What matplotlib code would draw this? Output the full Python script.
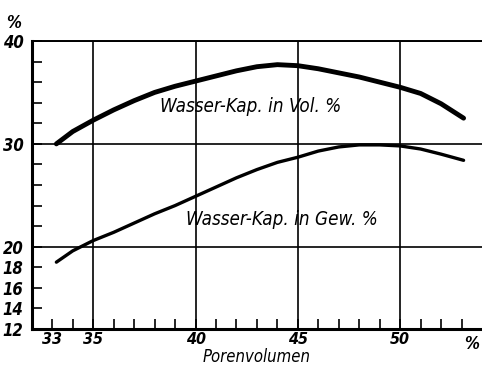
"""Wasser-Kapazitaet vs. Porenvolumen."""
import matplotlib
matplotlib.use("Agg")
import matplotlib.pyplot as plt

FONT = ["DejaVu Sans"]

poren = [33.2, 34, 35, 36, 37, 38, 39, 40, 41, 42, 43, 44, 45, 46, 47, 48, 49, 50, 51, 52, 53.1]
kap_vol = [30.0, 31.2, 32.3, 33.3, 34.2, 35.0, 35.6, 36.1, 36.6, 37.1, 37.5, 37.7, 37.6,
           37.3, 36.9, 36.5, 36.0, 35.5, 34.9, 33.9, 32.5]
kap_gew = [18.5, 19.6, 20.6, 21.4, 22.3, 23.2, 24.0, 24.9, 25.8, 26.7, 27.5, 28.2, 28.7,
           29.3, 29.7, 29.9, 29.9, 29.8, 29.5, 29.0, 28.4]

x_grid = [35, 40, 45, 50]
y_grid = [20, 30, 40]
x_ticks = list(range(33, 54))
x_labels = {33: "33", 35: "35", 40: "40", 45: "45", 50: "50"}
y_ticks = [12, 14, 16, 18, 20, 22, 24, 26, 28, 30, 32, 34, 36, 38, 40]
y_labels = {12: "12", 14: "14", 16: "16", 18: "18", 20: "20", 30: "30", 40: "40"}

fig = plt.figure(figsize=(4.82, 3.66), dpi=100)
ax = fig.add_axes([0.066, 0.101, 0.934, 0.787])

for x in x_grid:
    ax.axvline(x, color="black", lw=1.2, zorder=1)
for y in y_grid:
    ax.axhline(y, color="black", lw=1.2, zorder=1)

ax.plot(poren, kap_vol, color="black", lw=3.5, solid_capstyle="round",
        solid_joinstyle="round", zorder=3)
ax.plot(poren, kap_gew, color="black", lw=2.4, solid_capstyle="round",
        solid_joinstyle="round", zorder=3)

txt = dict(family=FONT, style="italic", stretch="condensed", fontsize=13.5, color="black")
ax.text(42.7, 33.6, "Wasser-Kap. in Vol. %", ha="center", va="center", **txt)
ax.text(44.2, 22.6, "Wasser-Kap. in Gew. %", ha="center", va="center", **txt)

ax.set_xlim(32, 54)
ax.set_ylim(12, 40)
ax.set_xticks(x_ticks)
ax.set_xticklabels([x_labels.get(t, "") for t in x_ticks])
ax.set_yticks(y_ticks)
ax.set_yticklabels([y_labels.get(t, "") for t in y_ticks])
ax.tick_params(direction="in", length=7, width=1.2, labelsize=12)
ax.tick_params(axis="x", pad=2, labelsize=11.5)
ax.tick_params(axis="y", pad=6)
for lab in ax.get_xticklabels() + ax.get_yticklabels():
    lab.set_family(FONT)
    lab.set_style("italic")
    lab.set_stretch("condensed")
    lab.set_weight("bold")

lab_kw = dict(fontsize=12, family=FONT, style="italic", stretch="condensed", weight="bold")
ax.text(53.5, 11.4, "%", ha="center", va="top", **lab_kw)
ax.text(-0.04, 1.03, "%", transform=ax.transAxes, ha="center", va="bottom", **lab_kw)
ax.set_xlabel("Porenvolumen", family=FONT, style="italic", stretch="condensed",
              fontsize=12, labelpad=1)

ax.spines["right"].set_visible(False)
for s in ("left", "bottom"):
    ax.spines[s].set_linewidth(2.2)
ax.spines["top"].set_linewidth(1.4)

fig.savefig("out.png", dpi=100, facecolor="white")
